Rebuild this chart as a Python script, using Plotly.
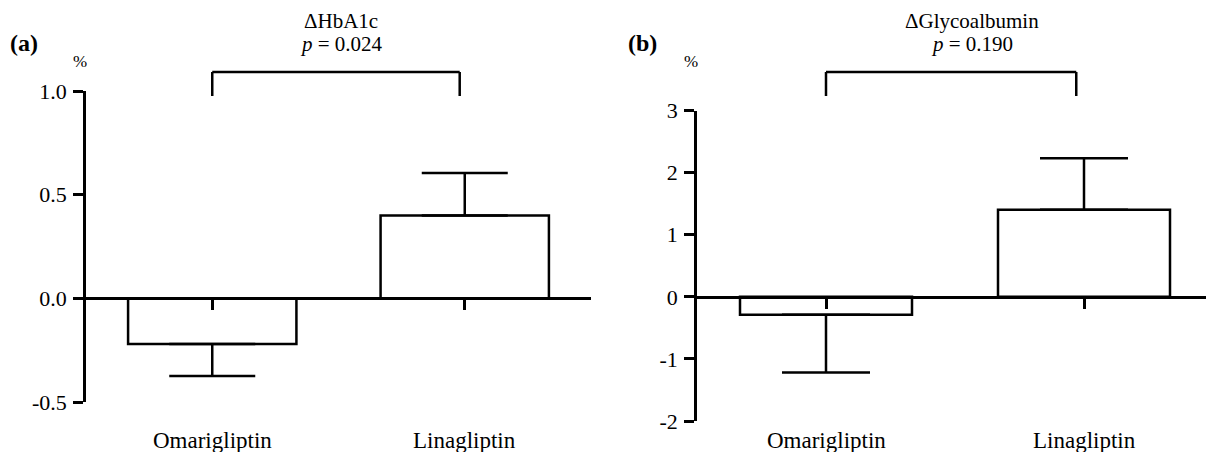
import plotly.graph_objects as go

# ---- data ----
categories = ["Omarigliptin", "Linagliptin"]
hba1c_mean = [-0.22, 0.40]
hba1c_err = [0.155, 0.205]
ga_mean = [-0.29, 1.40]
ga_err = [0.93, 0.83]
hba1c_ticks = [-0.5, 0.0, 0.5, 1.0]
hba1c_ticktext = ["-0.5", "0.0", "0.5", "1.0"]
ga_ticks = [-2, -1, 0, 1, 2, 3]
ga_ticktext = ["-2", "-1", "0", "1", "2", "3"]
titles = ["ΔHbA1c", "ΔGlycoalbumin"]
pvals = ["0.024", "0.190"]
panel_labels = ["(a)", "(b)"]

OFF = 8  # page body margin
W, H = 1214 - OFF, 452 - OFF
FONT = "Liberation Serif, Times New Roman, serif"
LW = 2.5

def px_x(p):
    return (p - OFF) / W

def px_y(p):
    return 1 - (p - OFF) / H

fig = go.Figure()

def one_sided(means, errs):
    up = [e if m >= 0 else 0 for m, e in zip(means, errs)]
    dn = [e if m < 0 else 0 for m, e in zip(means, errs)]
    return up, dn

for i, (means, errs, cap) in enumerate([(hba1c_mean, hba1c_err, 43), (ga_mean, ga_err, 44)]):
    up, dn = one_sided(means, errs)
    sfx = "" if i == 0 else "2"
    fig.add_trace(go.Bar(
        x=categories, y=means, width=2/3,
        marker=dict(color="white", line=dict(color="black", width=LW)),
        error_y=dict(type="data", symmetric=False, array=up, arrayminus=dn,
                     color="black", thickness=LW, width=cap),
        xaxis="x" + sfx, yaxis="y" + sfx, showlegend=False,
    ))

# domains (screen pixels -> paper)
a_x = [px_x(86), px_x(591)]
a_y = [px_y(402), px_y(91)]
b_x = [px_x(697), px_x(1213)]
b_y = [px_y(421), px_y(110.5)]
a_range = [-0.5, 1.0]
b_range = [-2, 3]

def zero_pos(dom, rng):
    return dom[0] + (0 - rng[0]) / (rng[1] - rng[0]) * (dom[1] - dom[0])

xcommon = dict(type="category", range=[-0.5, 1.5], showline=True, linecolor="black",
               linewidth=LW, ticks="outside", ticklen=10, tickwidth=LW, tickcolor="black",
               showticklabels=False, showgrid=False, zeroline=False, anchor="free",
               automargin=False)
ycommon = dict(showline=True, linecolor="black", linewidth=LW, ticks="outside",
               ticklen=10, tickwidth=LW, tickcolor="black", showgrid=False,
               zeroline=False, tickfont=dict(family=FONT, size=22, color="black"),
               ticklabelstandoff=2, automargin=False)

fig.update_layout(
    width=W, height=H, margin=dict(l=0, r=0, t=0, b=0, autoexpand=False),
    plot_bgcolor="white", paper_bgcolor="white",
    font=dict(family=FONT, color="black"),
    xaxis=dict(domain=a_x, position=zero_pos(a_y, a_range), **xcommon),
    yaxis=dict(domain=a_y, range=a_range, tickmode="array", tickvals=hba1c_ticks,
               ticktext=hba1c_ticktext, anchor="x", **ycommon),
    xaxis2=dict(domain=b_x, position=zero_pos(b_y, b_range), **xcommon),
    yaxis2=dict(domain=b_y, range=b_range, tickmode="array", tickvals=ga_ticks,
                ticktext=ga_ticktext, anchor="x2", **ycommon),
)

anns = []
shapes = []
panels = [
    dict(xref="x", label_x=px_x(24), pct_x=px_x(80), title_x=px_x(341), bracket_r=0.98),
    dict(xref="x2", label_x=px_x(642), pct_x=px_x(691), title_x=px_x(972), bracket_r=0.97),
]

def ann(text, x, y, size, xref="paper"):
    return dict(text=text, x=x, y=y, xref=xref, yref="paper", showarrow=False,
                xanchor="center", yanchor="middle",
                font=dict(family=FONT, size=size, color="black"))

for i, p in enumerate(panels):
    anns.append(ann("<b>" + panel_labels[i] + "</b>", p["label_x"], px_y(43), 24))
    anns.append(ann("%", p["pct_x"], px_y(61), 17))
    anns.append(ann(titles[i], p["title_x"], px_y(21), 21))
    anns.append(ann("<i>p</i> = " + pvals[i], p["title_x"], px_y(44), 21))
    for c in categories:
        anns.append(ann(c, c, px_y(440), 23, xref=p["xref"]))
    # bracket
    shapes.append(dict(type="line", xref=p["xref"], yref="paper", x0=0, x1=0,
                       y0=px_y(96), y1=px_y(72), line=dict(color="black", width=LW)))
    shapes.append(dict(type="line", xref=p["xref"], yref="paper", x0=p["bracket_r"], x1=p["bracket_r"],
                       y0=px_y(96), y1=px_y(72), line=dict(color="black", width=LW)))
    shapes.append(dict(type="line", xref=p["xref"], yref="paper", x0=0, x1=p["bracket_r"],
                       y0=px_y(72), y1=px_y(72), line=dict(color="black", width=LW)))

fig.update_layout(annotations=anns, shapes=shapes)
fig.write_html("out.html")
